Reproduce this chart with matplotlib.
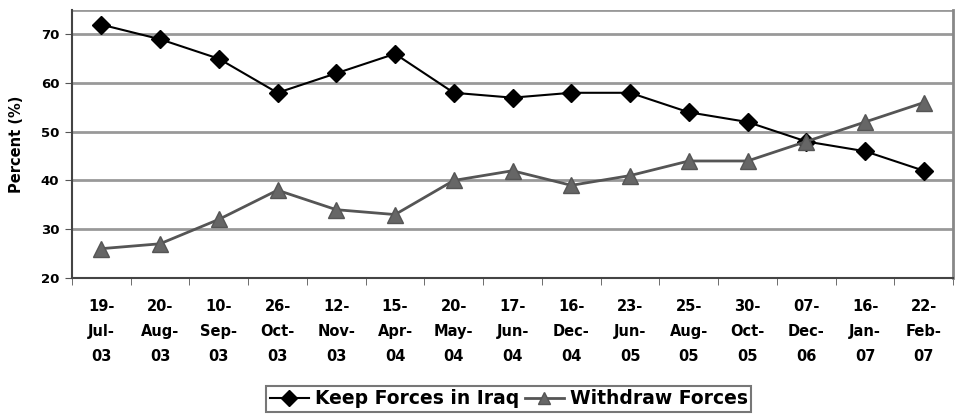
import numpy as np
import matplotlib.pyplot as plt

# Poll dates (day-month-year)
dates = ["19-\nJul-\n03", "20-\nAug-\n03", "10-\nSep-\n03", "26-\nOct-\n03", "12-\nNov-\n03",
         "15-\nApr-\n04", "20-\nMay-\n04", "17-\nJun-\n04", "16-\nDec-\n04", "23-\nJun-\n05",
         "25-\nAug-\n05", "30-\nOct-\n05", "07-\nDec-\n06", "16-\nJan-\n07", "22-\nFeb-\n07"]
keep_forces = [72, 69, 65, 58, 62, 66, 58, 57, 58, 58, 54, 52, 48, 46, 42]
withdraw_forces = [26, 27, 32, 38, 34, 33, 40, 42, 39, 41, 44, 44, 48, 52, 56]
y_ticks = [20, 30, 40, 50, 60, 70]

plt.rcParams['font.family'] = 'DejaVu Sans'
plt.rcParams['font.weight'] = 'bold'

fig = plt.figure(figsize=(9.58, 4.16), dpi=100)
ax = fig.add_axes([0.075, 0.332, 0.92, 0.644])

x = np.arange(len(dates))
ax.plot(x, keep_forces, color='black', lw=1.5, marker='D', ms=9,
        markerfacecolor='black', markeredgecolor='black', label='Keep Forces in Iraq', zorder=3)
ax.plot(x, withdraw_forces, color='#555555', lw=2, marker='^', ms=11,
        markerfacecolor='#666666', markeredgecolor='#555555', label='Withdraw Forces', zorder=3)

ax.set_xlim(-0.5, len(dates) - 0.5)
ax.set_ylim(20, 75)
ax.set_yticks(y_ticks)
ax.set_yticklabels([str(v) for v in y_ticks], fontsize=9.5, fontweight='bold')
ax.yaxis.grid(True, color='#999999', lw=2)
ax.axhline(75, color='#999999', lw=2, zorder=1)
ax.set_axisbelow(True)

# category labels under each point, tick marks between categories
ax.set_xticks(x)
ax.set_xticklabels(dates, fontsize=10.5, fontweight='bold', linespacing=1.85)
ax.tick_params(axis='x', length=0, pad=15)
ax.set_xticks(np.arange(len(dates) + 1) - 0.5, minor=True)
ax.tick_params(axis='x', which='minor', length=5, color='#555555', direction='out')
ax.tick_params(axis='y', length=5, color='#555555', direction='out', pad=4)

ax.spines['top'].set_visible(False)
ax.spines['left'].set_color('#444444')
ax.spines['left'].set_linewidth(1.5)
ax.spines['bottom'].set_color('#444444')
ax.spines['bottom'].set_linewidth(1.5)
ax.spines['right'].set_color('#888888')
ax.spines['right'].set_linewidth(2)

ax.set_ylabel('Percent (%)', fontsize=10.5, fontweight='bold', labelpad=12)

leg = fig.legend(loc='center', bbox_to_anchor=(0.531, 0.041), ncol=2, frameon=True,
                 fancybox=False, edgecolor='#555555', fontsize=13.5, handlelength=2.1,
                 handletextpad=0.3, columnspacing=0.3, borderpad=0.2, markerscale=0.85)
leg.get_frame().set_linewidth(1.5)
for t in leg.get_texts():
    t.set_fontweight('bold')

fig.savefig('out.png', dpi=100)
